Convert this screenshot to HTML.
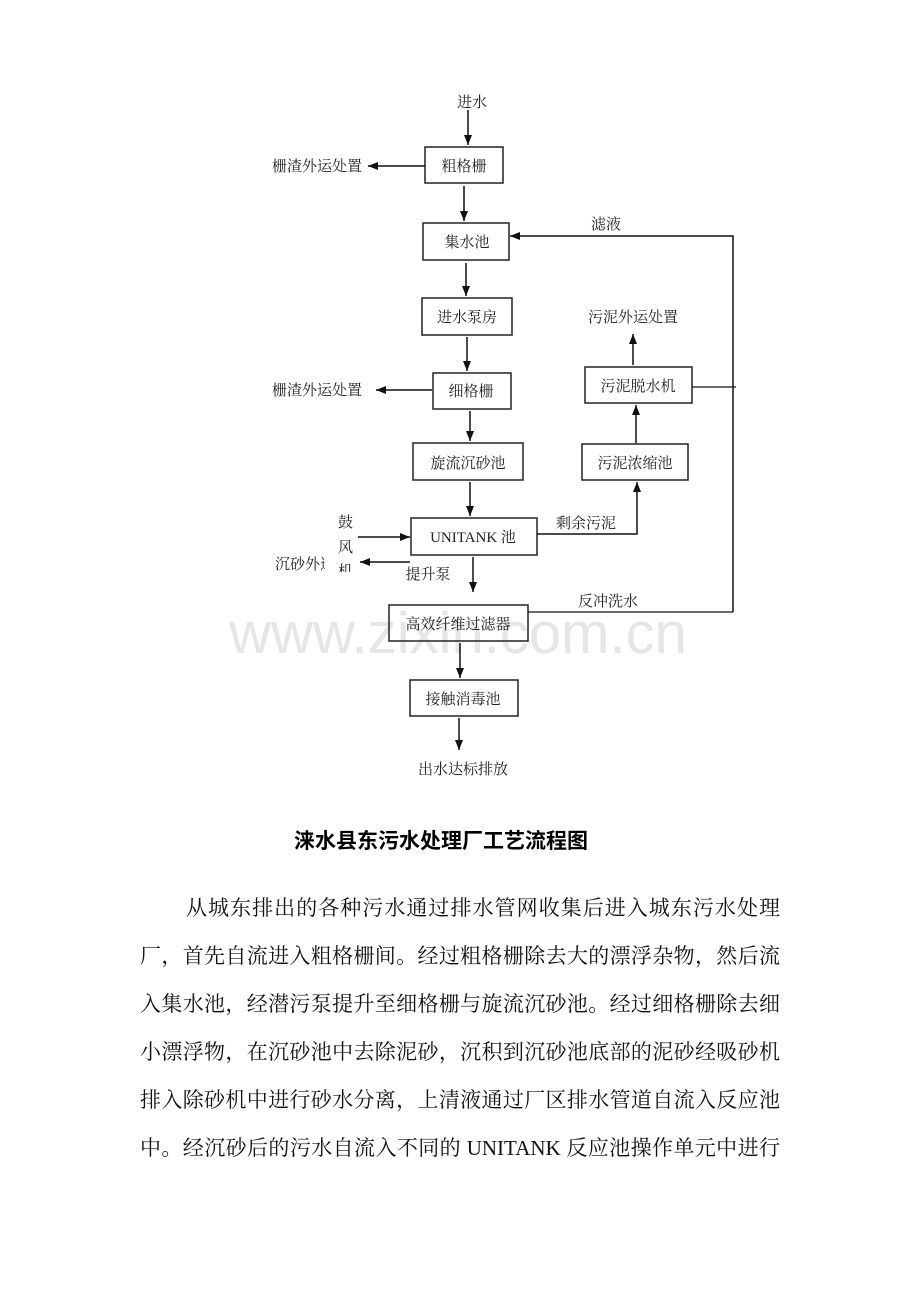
<!DOCTYPE html>
<html><head><meta charset="utf-8"><style>
body{margin:0;background:#fff;width:920px;height:1302px;overflow:hidden;position:relative;font-family:"Liberation Serif","Noto Serif CJK SC",serif;}
svg{position:absolute;left:0;top:0}
.p{position:absolute;left:140px;width:640px;font-size:21px;line-height:48px;color:#111;text-align:justify;text-align-last:justify;white-space:nowrap;}
</style></head><body>
<svg width="920" height="1302" xmlns="http://www.w3.org/2000/svg" font-family="Liberation Serif, Noto Serif CJK SC, serif" font-size="15" fill="#222">
<defs><marker id="a" markerWidth="10" markerHeight="8" refX="10" refY="4" orient="auto" markerUnits="userSpaceOnUse"><path d="M0,0 L10,4 L0,8 z" fill="#111"/></marker></defs>
<text x="458" y="653" font-family="Liberation Sans, sans-serif" font-size="58" fill="#e6e6e6" text-anchor="middle">www.zixin.com.cn</text>
<g stroke="#222" stroke-width="1.5" fill="none">
<rect x="425" y="147" width="78" height="36"/>
<rect x="423" y="223" width="86" height="37"/>
<rect x="422" y="298" width="90" height="37"/>
<rect x="433" y="373" width="78" height="36"/>
<rect x="585" y="367" width="107" height="36"/>
<rect x="413" y="443" width="110" height="37"/>
<rect x="582" y="444" width="106" height="36"/>
<rect x="411" y="518" width="126" height="37"/>
<rect x="389" y="605" width="139" height="36"/>
<rect x="410" y="680" width="108" height="36"/>
</g>
<g stroke="#111" stroke-width="1.5" fill="none" marker-end="url(#a)">
<line x1="468" y1="110" x2="468" y2="145"/>
<line x1="425" y1="166" x2="368" y2="166"/>
<line x1="464" y1="186" x2="464" y2="221"/>
<line x1="466" y1="263" x2="466" y2="296"/>
<line x1="467" y1="337" x2="467" y2="371"/>
<line x1="432" y1="390" x2="376" y2="390"/>
<line x1="470" y1="411" x2="470" y2="441"/>
<line x1="470" y1="482" x2="470" y2="516"/>
<line x1="636" y1="443" x2="636" y2="405"/>
<line x1="633" y1="365" x2="633" y2="334"/>
<polyline points="537,534 637,534 637,482"/>
<line x1="358" y1="537" x2="410" y2="537"/>
<line x1="410" y1="562" x2="360" y2="562"/>
<line x1="473" y1="557" x2="473" y2="592"/>
<line x1="460" y1="643" x2="460" y2="678"/>
<line x1="459" y1="718" x2="459" y2="750"/>
<polyline points="733,612 733,236 510,236"/>
</g>
<g stroke="#111" stroke-width="1.3" fill="none">
<line x1="528" y1="612" x2="733" y2="612"/>
<line x1="692" y1="387" x2="736" y2="387"/>
</g>
<g text-anchor="middle">
<text x="472" y="107">进水</text>
<text x="464" y="171">粗格栅</text>
<text x="467" y="247">集水池</text>
<text x="467" y="322">进水泵房</text>
<text x="471" y="396">细格栅</text>
<text x="638" y="391">污泥脱水机</text>
<text x="633" y="322">污泥外运处置</text>
<text x="606" y="229">滤液</text>
<text x="468" y="468">旋流沉砂池</text>
<text x="635" y="468">污泥浓缩池</text>
<text x="473" y="542">UNITANK 池</text>
<text x="586" y="528">剩余污泥</text>
<text x="608" y="606">反冲洗水</text>
<text x="458" y="629">高效纤维过滤器</text>
<text x="463" y="704">接触消毒池</text>
<text x="463" y="774">出水达标排放</text>
<text x="428" y="579">提升泵</text>
</g>
<text x="272" y="171">栅渣外运处置</text>
<text x="272" y="395">栅渣外运处置</text>
<text x="338" y="527">鼓</text>
<text x="338" y="552">风</text>
<svg x="275" y="550" width="50" height="30" overflow="hidden"><text x="0" y="19">沉砂外运</text></svg>
<svg x="336" y="562" width="20" height="10" overflow="hidden"><text x="2" y="14">机</text></svg>
<text x="441" y="848" text-anchor="middle" font-size="21" font-weight="bold" fill="#000" font-family="Liberation Sans, Noto Sans CJK SC, sans-serif">涞水县东污水处理厂工艺流程图</text>
</svg>
<div class="p" style="top:884px;left:186px;width:594px">从城东排出的各种污水通过排水管网收集后进入城东污水处理</div>
<div class="p" style="top:932px">厂，首先自流进入粗格栅间。经过粗格栅除去大的漂浮杂物，然后流</div>
<div class="p" style="top:980px">入集水池，经潜污泵提升至细格栅与旋流沉砂池。经过细格栅除去细</div>
<div class="p" style="top:1028px">小漂浮物，在沉砂池中去除泥砂，沉积到沉砂池底部的泥砂经吸砂机</div>
<div class="p" style="top:1076px">排入除砂机中进行砂水分离，上清液通过厂区排水管道自流入反应池</div>
<div class="p" style="top:1124px">中。经沉砂后的污水自流入不同的 UNITANK 反应池操作单元中进行</div>
</body></html>
